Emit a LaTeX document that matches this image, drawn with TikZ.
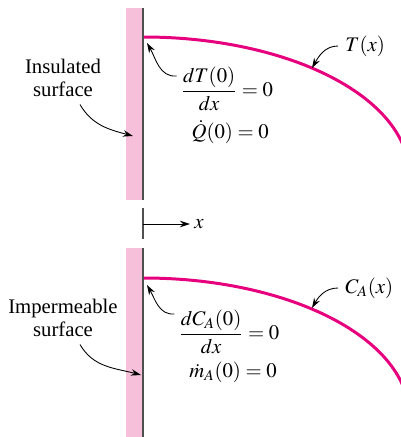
\documentclass[tikz,border=0pt]{standalone}
\usepackage{amsmath}
\usepackage{mathptmx}
\usepackage{fontspec}
\setmainfont{Liberation Serif}
\usetikzlibrary{arrows.meta}

\definecolor{wallpink}{RGB}{246,192,218}
\definecolor{curvemag}{RGB}{230,0,126}
\definecolor{wallgray}{RGB}{80,80,80}

\tikzset{
  lbl/.style={inner sep=0pt, font=\fontsize{11.8}{13.5}\selectfont, align=center},
  pointer/.style={line width=0.5pt, -{Stealth[length=2mm, width=1.3mm]}},
  profile/.style={curvemag, line width=1.7pt},
  wallface/.style={wallgray, line width=0.8pt},
}

\begin{document}
\begin{tikzpicture}[x=0.02cm, y=-0.02cm]
\useasboundingbox (0,0) rectangle (400,437);
\def\ax{265}
\def\by{137}
\def\dy{241}

% top wall and temperature profile
\fill[wallpink] (126,8) rectangle (142,200);
\draw[wallface] (143,8) -- (143,200);
\draw[profile] plot[domain=-90:-13, samples=80] ({144+\ax*cos(\x)}, {174+\by*sin(\x)});

\coordinate (Wtop) at (133,136);
\coordinate (Ttop) at (147,43);
\coordinate (Tcurve) at (312,68);

\node[lbl] (ins) at (63,78) {Insulated\\surface};
\node[lbl] (dTdx) at (227,89) {$\dfrac{dT(0)}{dx} = 0$};
\node[lbl, anchor=east] (Qdot) at (269,132) {$\dot{Q}(0) = 0$};
\node[lbl, anchor=west] (Tlab) at (345,46) {$T(x)$};

\draw[pointer] ([xshift=0.34cm, yshift=-0.14cm]ins.south) to[out=-60, in=165] (Wtop);
\draw[pointer] ([xshift=-0.08cm, yshift=0.26cm]dTdx.west) to[out=185, in=-60] (Ttop);
\draw[pointer] ([xshift=-0.14cm]Tlab.west) to[out=180, in=60] (Tcurve);

% x axis
\coordinate (O) at (143,224);
\coordinate (Xend) at (190,224);
\draw[wallface] (143,208) -- (143,239);
\draw[pointer] (O) -- (Xend);
\node[lbl, anchor=west] (xlab) at (194,224) {$x$};

% bottom wall and concentration profile
\fill[wallpink] (126,248) rectangle (142,437);
\draw[wallface] (143,248) -- (143,437);
\draw[profile] plot[domain=-90:-13, samples=80] ({144+\ax*cos(\x)}, {174+\dy+\by*sin(\x)});

\coordinate (Wbot) at (141,375);
\coordinate (Ctop) at (147,285);
\coordinate (Ccurve) at (312,308);

\node[lbl] (imp) at (63,318) {Impermeable\\surface};
\node[lbl] (dCdx) at (229,332) {$\dfrac{dC_A(0)}{dx} = 0$};
\node[lbl, anchor=east] (mdot) at (277,372) {$\dot{m}_A(0) = 0$};
\node[lbl, anchor=west] (Clab) at (345,288) {$C_A(x)$};

\draw[pointer] ([xshift=0.34cm, yshift=-0.14cm]imp.south) to[out=-60, in=165] (Wbot);
\draw[pointer] ([xshift=-0.08cm, yshift=0.36cm]dCdx.west) to[out=185, in=-60] (Ctop);
\draw[pointer] ([xshift=-0.14cm]Clab.west) to[out=180, in=60] (Ccurve);
\end{tikzpicture}
\end{document}
